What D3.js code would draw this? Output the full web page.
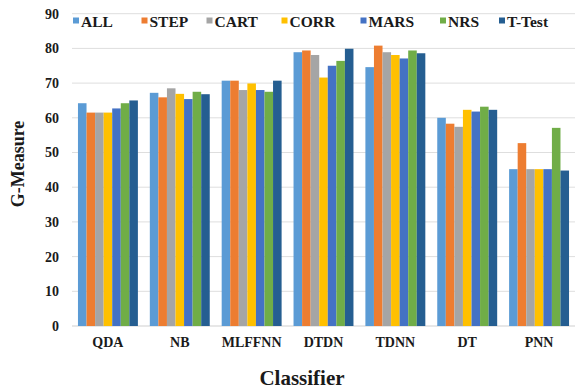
<!DOCTYPE html>
<html>
<head>
<meta charset="utf-8">
<script src="https://cdn.jsdelivr.net/npm/d3@7/dist/d3.min.js"></script>
<style>
  html, body { margin: 0; padding: 0; background: #fff; }
  svg { display: block; }
  text { font-family: "Liberation Serif", "Times New Roman", serif; font-weight: bold; fill: #1a1a1a; }
</style>
</head>
<body>
<svg id="chart" width="576" height="392"></svg>
<script>
// Classifiers on the x axis
const classifiers = ["QDA", "NB", "MLFFNN", "DTDN", "TDNN", "DT", "PNN"];
// Feature-selection methods (one bar per method within each classifier)
const methods = ["ALL", "STEP", "CART", "CORR", "MARS", "NRS", "T-Test"];
const methodColors = ["#5B9BD5", "#ED7D31", "#A5A5A5", "#FFC000", "#4472C4", "#70AD47", "#255E91"];

// G-Measure per method, listed in classifier order
const allValues   = [64.2, 67.2, 70.7, 78.9, 74.6, 60.0, 45.2];
const stepValues  = [61.5, 65.9, 70.7, 79.4, 80.8, 58.3, 52.7];
const cartValues  = [61.5, 68.5, 68.0, 78.1, 78.9, 57.4, 45.2];
const corrValues  = [61.5, 66.9, 69.9, 71.6, 78.1, 62.3, 45.2];
const marsValues  = [62.7, 65.4, 68.0, 75.0, 77.1, 61.8, 45.2];
const nrsValues   = [64.2, 67.5, 67.5, 76.4, 79.4, 63.2, 57.1];
const ttestValues = [65.0, 66.8, 70.7, 79.9, 78.6, 62.3, 44.8];

const yTicks = [0, 10, 20, 30, 40, 50, 60, 70, 80, 90];

const seriesValues = [allValues, stepValues, cartValues, corrValues, marsValues, nrsValues, ttestValues];

const svg = d3.select("#chart");
const margin = { left: 72, right: 1, top: 13.7, bottom: 66 };
const W = 576, H = 392;

const x0 = d3.scaleBand()
  .domain(classifiers)
  .range([margin.left, W - margin.right])
  .paddingInner(0)
  .paddingOuter(0);

const groupFrac = 0.834;
const x1 = d3.scaleBand()
  .domain(methods)
  .range([0, x0.bandwidth() * groupFrac])
  .padding(0);

const y = d3.scaleLinear()
  .domain([0, 90])
  .range([H - margin.bottom, margin.top]);

const color = d3.scaleOrdinal().domain(methods).range(methodColors);

// Horizontal gridlines
svg.append("g")
  .selectAll("line")
  .data(yTicks)
  .join("line")
  .attr("x1", margin.left)
  .attr("x2", W - margin.right)
  .attr("y1", d => y(d))
  .attr("y2", d => y(d))
  .attr("stroke", d => d === 0 ? "#cfcfcf" : "#dedede")
  .attr("stroke-width", 1);

// Y axis labels
const yAxis = d3.axisLeft(y).tickValues(yTicks).tickSize(0).tickPadding(0);
const gy = svg.append("g")
  .attr("transform", `translate(${margin.left - 13},0)`)
  .call(yAxis);
gy.select(".domain").remove();
gy.selectAll("text")
  .attr("font-size", 14)
  .attr("font-family", "Liberation Serif, serif")
  .attr("font-weight", "bold")
  .attr("fill", "#1a1a1a");

// Bars
const groupOffset = x0.bandwidth() * (1 - groupFrac) / 2;
const cells = [];
classifiers.forEach((c, ci) => {
  methods.forEach((m, mi) => {
    cells.push({ classifier: c, method: m, value: seriesValues[mi][ci] });
  });
});

svg.append("g")
  .selectAll("rect")
  .data(cells)
  .join("rect")
  .attr("x", d => x0(d.classifier) + groupOffset + x1(d.method))
  .attr("width", x1.bandwidth())
  .attr("y", d => y(d.value))
  .attr("height", d => y(0) - y(d.value))
  .attr("fill", d => color(d.method));

// X axis labels
const xAxis = d3.axisBottom(x0).tickSize(0).tickPadding(0);
const gx = svg.append("g")
  .attr("transform", `translate(0,${y(0) + 11})`)
  .call(xAxis);
gx.select(".domain").remove();
gx.selectAll("text")
  .attr("font-size", 14)
  .attr("font-family", "Liberation Serif, serif")
  .attr("font-weight", "bold")
  .attr("fill", "#1a1a1a");

// Axis titles
svg.append("text")
  .attr("x", 302)
  .attr("y", 385)
  .attr("text-anchor", "middle")
  .attr("font-size", 21)
  .text("Classifier");

svg.append("text")
  .attr("transform", "translate(24,164) rotate(-90)")
  .attr("text-anchor", "middle")
  .attr("font-size", 18)
  .text("G-Measure");

// Legend
const legendX = [73, 141.5, 206.5, 281.5, 360.5, 440, 499];
const legend = svg.append("g");
methods.forEach((m, i) => {
  const g = legend.append("g").attr("transform", `translate(${legendX[i]},0)`);
  g.append("rect")
    .attr("x", 0).attr("y", 17.5)
    .attr("width", 6).attr("height", 6)
    .attr("fill", methodColors[i]);
  g.append("text")
    .attr("x", 8).attr("y", 26.5)
    .attr("font-size", 15.5)
    .text(m);
});
</script>
</body>
</html>
